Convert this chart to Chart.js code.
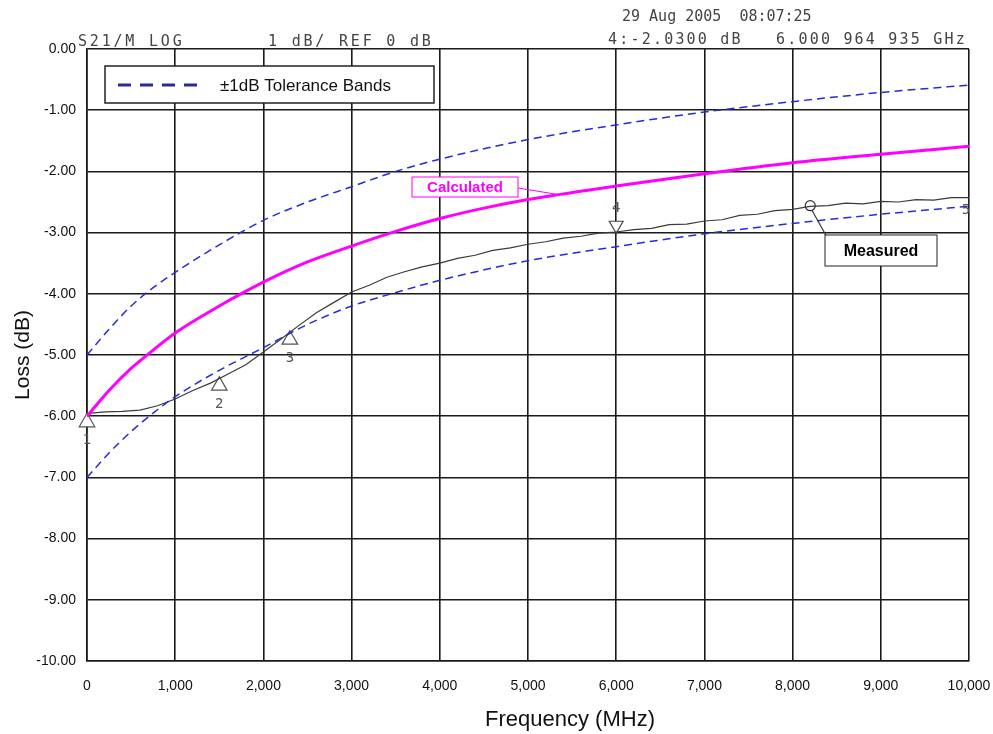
<!DOCTYPE html>
<html>
<head>
<meta charset="utf-8">
<script src="https://cdn.jsdelivr.net/npm/chart.js@4.4.1/dist/chart.umd.min.js"></script>
<style>
  body { margin: 0; background: #fff; }
  #wrap { width: 993px; height: 734px; position: relative; }
</style>
</head>
<body>
<div id="wrap"><canvas id="lossChart"></canvas></div>
<script>
// Frequency (MHz) grid for the smooth curves
const bandFreq = [0, 250, 500, 750, 1000, 1500, 2000, 2500, 3000, 3500, 4000, 5000, 6000, 7000, 8000, 9000, 10000];
const upperBand = [-5.0, -4.58, -4.2, -3.9, -3.65, -3.2, -2.8, -2.5, -2.25, -2.0, -1.8, -1.48, -1.24, -1.03, -0.86, -0.71, -0.59];
const lowerBand = [-7.0, -6.6, -6.25, -5.95, -5.68, -5.25, -4.88, -4.5, -4.2, -3.98, -3.78, -3.46, -3.23, -3.02, -2.85, -2.7, -2.57];

const calcFreq = [0, 250, 500, 750, 1000, 1500, 2000, 2500, 3000, 3500, 4000, 4500, 5000, 6000, 7000, 8000, 9000, 10000];
const calculated = [-6.0, -5.58, -5.22, -4.92, -4.64, -4.2, -3.81, -3.48, -3.22, -2.98, -2.77, -2.6, -2.46, -2.24, -2.04, -1.86, -1.72, -1.59];

// Measured trace (network analyser sweep)
const measFreq = [0, 50, 200, 400, 600, 800, 1000, 1200, 1400, 1600, 1800, 2000, 2200, 2400, 2600, 2800, 3000,
  3200, 3400, 3600, 3800, 4000, 4200, 4400, 4600, 4800, 5000, 5200, 5400, 5600, 5800, 6000, 6200, 6400,
  6600, 6800, 7000, 7200, 7400, 7600, 7800, 8000, 8200, 8400, 8600, 8800, 9000, 9200, 9400, 9600, 9800, 10000];
const measured = [-6.0, -5.95, -5.93, -5.92, -5.9, -5.83, -5.72, -5.58, -5.46, -5.31, -5.16, -4.95, -4.74, -4.52, -4.31, -4.14, -3.97,
  -3.86, -3.73, -3.64, -3.56, -3.5, -3.42, -3.37, -3.29, -3.25, -3.19, -3.15, -3.09, -3.06, -3.01, -2.99, -2.95, -2.93,
  -2.87, -2.86, -2.81, -2.79, -2.72, -2.7, -2.64, -2.62, -2.57, -2.56, -2.52, -2.53, -2.49, -2.5, -2.46, -2.47, -2.43, -2.43];

// Analyser markers
const markerFreq = [0, 1500, 2300];
const markerLoss = [-6.1, -5.5, -4.75];
const markerNames = ["1", "2", "3"];
const marker4 = { f: 6000, v: -2.88 };
const circleMarker = { f: 8200, v: -2.56 };

const xTicks = [0, 1000, 2000, 3000, 4000, 5000, 6000, 7000, 8000, 9000, 10000];

const toPts = (xs, ys) => xs.map((x, i) => ({ x: x, y: ys[i] }));

const NAVY = "#2a2ad6";
const MAGENTA = "#ff00ff";

const overlay = {
  id: "overlay",
  afterDatasetsDraw(chart) {
    const { ctx } = chart;
    const xs = chart.scales.x, ys = chart.scales.y;
    ctx.save();

    // header text of the analyser plot
    ctx.fillStyle = "#444";
    ctx.font = "15px 'DejaVu Sans Mono', monospace";
    ctx.textBaseline = "alphabetic";
    ctx.fillText("29 Aug 2005  08:07:25", 622, 21);
    ctx.letterSpacing = "2.8px";
    ctx.fillText("S21/M LOG", 78, 46);
    ctx.fillText("1 dB/ REF 0 dB", 268, 46);
    ctx.letterSpacing = "2.2px";
    ctx.fillText("4:-2.0300 dB", 608, 44);
    ctx.fillText("6.000 964 935 GHz", 776, 44);
    ctx.letterSpacing = "0px";

    // legend box
    ctx.fillStyle = "#fff";
    ctx.fillRect(105, 66, 329, 37);
    ctx.strokeStyle = "#222";
    ctx.lineWidth = 1.5;
    ctx.strokeRect(105, 66, 329, 37);
    ctx.strokeStyle = "#2a2a9a";
    ctx.lineWidth = 3;
    ctx.setLineDash([13, 9]);
    ctx.beginPath(); ctx.moveTo(118, 85); ctx.lineTo(200, 85); ctx.stroke();
    ctx.setLineDash([]);
    ctx.fillStyle = "#111";
    ctx.font = "17px 'Liberation Sans', Arial, sans-serif";
    ctx.fillText("\u00b11dB Tolerance Bands", 220, 91);

    // axis titles
    ctx.textAlign = "center";
    ctx.font = "22px 'Liberation Sans', Arial, sans-serif";
    ctx.fillText("Frequency (MHz)", 570, 726);
    ctx.save();
    ctx.translate(29, 355);
    ctx.rotate(-Math.PI / 2);
    ctx.font = "21px 'Liberation Sans', Arial, sans-serif";
    ctx.fillText("Loss (dB)", 0, 0);
    ctx.restore();

    // triangle markers numbers
    ctx.fillStyle = "#555";
    ctx.font = "14px 'DejaVu Sans Mono', monospace";
    markerFreq.forEach((f, i) => {
      ctx.fillText(markerNames[i], xs.getPixelForValue(f), ys.getPixelForValue(markerLoss[i]) + 22);
    });
    const m4x = xs.getPixelForValue(marker4.f), m4y = ys.getPixelForValue(marker4.v);
    ctx.fillText("4", m4x, m4y - 13);
    ctx.fillText("5", xs.getPixelForValue(10000) - 3, ys.getPixelForValue(-2.6) + 6);

    // circle marker on measured trace
    const cx = xs.getPixelForValue(circleMarker.f), cy = ys.getPixelForValue(circleMarker.v);
    ctx.strokeStyle = "#333";
    ctx.lineWidth = 1.2;
    ctx.beginPath(); ctx.arc(cx, cy, 5, 0, Math.PI * 2); ctx.stroke();

    // "Measured" callout
    ctx.beginPath(); ctx.moveTo(cx + 2, cy + 5); ctx.lineTo(833, 248); ctx.stroke();
    ctx.fillStyle = "#fff";
    ctx.fillRect(825, 235, 112, 31);
    ctx.strokeStyle = "#222";
    ctx.lineWidth = 1;
    ctx.strokeRect(825, 235, 112, 31);
    ctx.fillStyle = "#000";
    ctx.font = "bold 16px 'Liberation Sans', Arial, sans-serif";
    ctx.fillText("Measured", 881, 256);

    // "Calculated" callout
    const lx = xs.getPixelForValue(5350), ly = ys.getPixelForValue(-2.38);
    ctx.strokeStyle = MAGENTA;
    ctx.beginPath(); ctx.moveTo(518, 188); ctx.lineTo(lx, ly); ctx.stroke();
    ctx.fillStyle = "#fff";
    ctx.fillRect(412, 177, 106, 20);
    ctx.strokeRect(412, 177, 106, 20);
    ctx.fillStyle = MAGENTA;
    ctx.font = "bold 15px 'Liberation Sans', Arial, sans-serif";
    ctx.fillText("Calculated", 465, 192);

    ctx.restore();
  }
};

new Chart(document.getElementById("lossChart"), {
  type: "line",
  data: {
    datasets: [
      { label: "+1dB", data: toPts(bandFreq, upperBand), borderColor: NAVY, borderWidth: 1.5, borderDash: [8, 5], pointRadius: 0, cubicInterpolationMode: "monotone" },
      { label: "-1dB", data: toPts(bandFreq, lowerBand), borderColor: NAVY, borderWidth: 1.5, borderDash: [8, 5], pointRadius: 0, cubicInterpolationMode: "monotone" },
      { label: "Calculated", data: toPts(calcFreq, calculated), borderColor: MAGENTA, borderWidth: 3, pointRadius: 0, cubicInterpolationMode: "monotone" },
      { label: "Measured", data: toPts(measFreq, measured), borderColor: "#3a3a3a", borderWidth: 1.2, pointRadius: 0, tension: 0 },
      { label: "Markers", type: "scatter", clip: false, data: toPts(markerFreq, markerLoss), pointStyle: "triangle", pointRadius: 9, backgroundColor: "#fff", borderColor: "#555", borderWidth: 1.2 },
      { label: "Marker 4", type: "scatter", clip: false, data: [{ x: marker4.f, y: marker4.v }], pointStyle: "triangle", rotation: 180, pointRadius: 8, backgroundColor: "#fff", borderColor: "#444", borderWidth: 1.2 }
    ]
  },
  options: {
    responsive: true,
    maintainAspectRatio: false,
    animation: false,
    layout: { padding: { left: 0, top: 49, right: 24, bottom: 0 } },
    plugins: { legend: { display: false }, tooltip: { enabled: false } },
    scales: {
      x: {
        type: "linear", min: 0, max: 10000,
        afterFit: s => { s.height = 73; s.paddingLeft = 0; s.paddingRight = 0; },
        afterBuildTicks: s => { s.ticks = xTicks.map(v => ({ value: v })); },
        ticks: { color: "#111", padding: 17, maxRotation: 0, font: { family: "'Liberation Sans Narrow', 'Liberation Sans', Arial", size: 14 },
          callback: v => v.toLocaleString("en-US") },
        grid: { color: "#1a1a1a", lineWidth: 1.6, drawTicks: false },
        border: { color: "#1a1a1a", width: 1.6 }
      },
      y: {
        min: -10, max: 0,
        afterFit: s => { s.width = 87; s.paddingTop = 0; s.paddingBottom = 0; },
        ticks: { stepSize: 1, color: "#111", padding: 11, font: { family: "'Liberation Sans Narrow', 'Liberation Sans', Arial", size: 14 },
          callback: v => v.toFixed(2) },
        grid: { color: "#1a1a1a", lineWidth: 1.6, drawTicks: false },
        border: { color: "#1a1a1a", width: 1.6 }
      }
    }
  },
  plugins: [overlay]
});
</script>
</body>
</html>
